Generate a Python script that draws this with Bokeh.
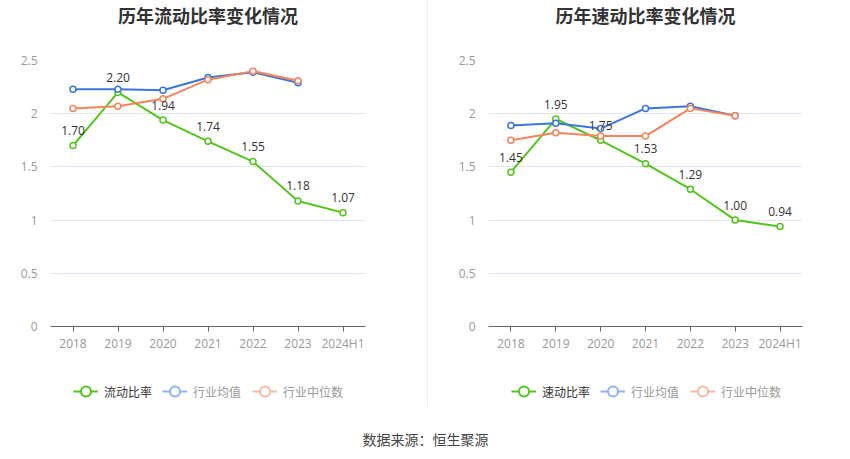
from bokeh.plotting import figure
from bokeh.models import (FactorRange, Range1d, FixedTicker, Label, Legend,
                          LegendItem, Div)
from bokeh.layouts import row, column
from bokeh.embed import file_html
from bokeh.resources import INLINE
from bokeh.core.properties import value

years = ["2018", "2019", "2020", "2021", "2022", "2023", "2024H1"]
ind_years = years[:6]

current_ratio = [1.70, 2.20, 1.94, 1.74, 1.55, 1.18, 1.07]
current_ind_mean = [2.23, 2.23, 2.22, 2.34, 2.39, 2.29]
current_ind_median = [2.05, 2.07, 2.14, 2.32, 2.40, 2.31]

quick_ratio = [1.45, 1.95, 1.75, 1.53, 1.29, 1.00, 0.94]
quick_ind_mean = [1.89, 1.91, 1.86, 2.05, 2.07, 1.98]
quick_ind_median = [1.75, 1.82, 1.79, 1.79, 2.05, 1.98]

y_ticks = [0, 0.5, 1, 1.5, 2, 2.5]
y_tick_labels = ["0", "0.5", "1", "1.5", "2", "2.5"]

GREEN = "#52c41a"
BLUE = "#3a75e0"
ORANGE = "#f5845a"
BLUE_L = "#8fb2f2"
ORANGE_L = "#f9b8a0"
CJK = "Noto Sans CJK SC"
NUM = "Open Sans"

FRAME_H = 266
TOP_H = 40
CHART_H = 326
LEG_H = 41


def strip(width, height, bl=0, br=0):
    f = figure(width=width, height=height, x_range=Range1d(0, width - bl - br),
               y_range=Range1d(0, height), output_backend="svg",
               toolbar_location=None, title=None, min_border=0,
               min_border_left=bl, min_border_right=br,
               x_axis_type=None, y_axis_type=None)
    f.outline_line_color = None
    f.grid.visible = False
    f.background_fill_color = "white"
    f.border_fill_color = "white"
    return f


def make_chart(title, name, main, mean, median, width, bl, br):
    fw = width - bl - br

    # title strip (frame aligned with the chart frame)
    t = strip(width, TOP_H, bl, br)
    t.add_layout(Label(x=fw / 2, y=TOP_H - 14, text=title,
                       text_align="center", text_baseline="middle",
                       text_font_size="18px", text_font_style="bold",
                       text_color="#333333", text_font=CJK))

    # chart
    p = figure(width=width, height=CHART_H, x_range=FactorRange(*years),
               y_range=Range1d(0, 2.5), output_backend="svg",
               toolbar_location=None, title=None,
               min_border_left=bl, min_border_right=br,
               min_border_top=20, min_border_bottom=CHART_H - 20 - FRAME_H)
    p.outline_line_color = None
    p.background_fill_color = "white"
    p.border_fill_color = "white"

    p.xgrid.grid_line_color = None
    p.ygrid.grid_line_color = "#e0e6f1"
    p.ygrid.ticker = FixedTicker(ticks=y_ticks)

    p.yaxis.ticker = FixedTicker(ticks=y_ticks)
    p.yaxis.major_label_overrides = {t_: l for t_, l in zip(y_ticks, y_tick_labels)}
    p.yaxis.axis_line_color = None
    p.yaxis.major_tick_line_color = None
    p.yaxis.minor_tick_line_color = None
    p.yaxis.major_label_standoff = 7
    p.yaxis.major_label_text_font_size = "12px"
    p.yaxis.major_label_text_color = "#999999"
    p.yaxis.major_label_text_font = NUM

    p.xaxis.axis_line_color = "#666666"
    p.xaxis.major_tick_line_color = "#666666"
    p.xaxis.major_tick_out = 5
    p.xaxis.major_tick_in = 0
    p.xaxis.major_label_standoff = 3
    p.xaxis.major_label_text_font_size = "12px"
    p.xaxis.major_label_text_color = "#999999"
    p.xaxis.major_label_text_font = NUM

    p.line(years, main, line_color=GREEN, line_width=2)
    p.scatter(years, main, size=6, fill_color="white", line_color=GREEN, line_width=1.5)
    p.line(ind_years, mean, line_color=BLUE, line_width=2)
    p.scatter(ind_years, mean, size=6, fill_color="white", line_color=BLUE, line_width=1.5)
    p.line(ind_years, median, line_color=ORANGE, line_width=2)
    p.scatter(ind_years, median, size=6, fill_color="white", line_color=ORANGE, line_width=1.5)

    p.text(x=years, y=main, text=[f"{v:.2f}" for v in main],
           text_align="center", text_baseline="middle", y_offset=-15,
           text_font_size="12px", text_color="#333333", text_font=value(NUM))

    # legend strip (frame aligned with the chart frame)
    g = strip(width, LEG_H, bl, br)

    def dummy(color):
        l = g.line([-1000, -999], [-1000, -1000], line_color=color, line_width=2)
        s = g.scatter([-1000], [-1000], fill_color="white", line_color=color, line_width=2)
        return [l, s]

    common = dict(orientation="horizontal", glyph_width=25, glyph_height=26,
                  label_standoff=6, padding=0, margin=0, spacing=11,
                  border_line_color=None, background_fill_alpha=0,
                  label_text_font_size="12px", label_text_font=CJK)
    leg1 = Legend(items=[LegendItem(label=name, renderers=dummy(GREEN))],
                  location=(23, 3), label_text_color="#333333", **common)
    leg2 = Legend(items=[LegendItem(label="行业均值", renderers=dummy(BLUE_L)),
                         LegendItem(label="行业中位数", renderers=dummy(ORANGE_L))],
                  location=(112, 3), label_text_color="#999999", **common)
    g.add_layout(leg1)
    g.add_layout(leg2)

    return column(t, p, g, spacing=0)


left = make_chart("历年流动比率变化情况", "流动比率", current_ratio,
                  current_ind_mean, current_ind_median, 427, 50, 62)
right = make_chart("历年速动比率变化情况", "速动比率", quick_ratio,
                   quick_ind_mean, quick_ind_median, 422, 60, 48)

divider = Div(text="", width=1, height=TOP_H + CHART_H + LEG_H, margin=(0, 0, 0, 0),
              styles={"background-color": "#eeeeee"})

bottom = strip(850, 52)
bottom.add_layout(Label(x=425, y=21, text="数据来源：恒生聚源", text_align="center",
                        text_baseline="middle", text_font_size="14px",
                        text_color="#444444", text_font=CJK))

layout = column(row(left, divider, right, spacing=0), bottom, spacing=0)

open("out.html", "w").write(file_html(layout, INLINE))
